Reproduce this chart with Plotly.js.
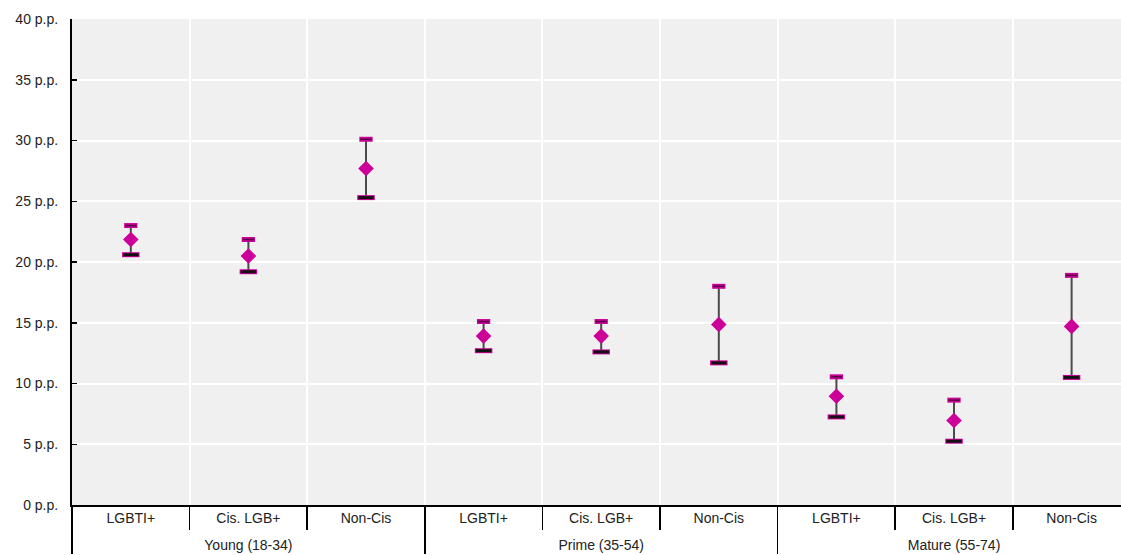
<!DOCTYPE html>
<html>
<head>
<meta charset="utf-8">
<script src="https://cdn.plot.ly/plotly-3.0.1.min.js"></script>
<style>html,body{margin:0;padding:0;background:#fff;}#chart{width:1121px;height:555px;}</style>
</head>
<body>
<div id="chart"></div>
<script>
const groups = ["Young (18-34)","Young (18-34)","Young (18-34)","Prime (35-54)","Prime (35-54)","Prime (35-54)","Mature (55-74)","Mature (55-74)","Mature (55-74)"];
const subcats = ["LGBTI+","Cis. LGB+","Non-Cis","LGBTI+","Cis. LGB+","Non-Cis","LGBTI+","Cis. LGB+","Non-Cis"];
const midValues = [21.85, 20.5, 27.7, 13.9, 13.9, 14.85, 8.95, 6.95, 14.7];
const highValues = [23.0, 21.85, 30.1, 15.1, 15.1, 18.0, 10.55, 8.63, 18.9];
const lowValues = [20.6, 19.2, 25.3, 12.7, 12.6, 11.7, 7.25, 5.25, 10.5];
const yTickVals = [0,5,10,15,20,25,30,35,40];

const MAG = "#cc0099";
// taller non-breaking spaces on both sides enlarge the first label row's box so the group row sits lower
const PADSP = "<span style='font-size:22px'>&nbsp;</span>";
const subLabels = subcats.map(s => PADSP + s + PADSP);
const x = [groups, subLabels];
const errPlus = highValues.map((h,i)=>h-midValues[i]);
const errMinus = midValues.map((m,i)=>m-lowValues[i]);

const traces = [
  {type:"scatter", mode:"markers", x:x, y:midValues, hoverinfo:"skip",
   marker:{symbol:"diamond", size:12, color:MAG},
   error_y:{type:"data", symmetric:false, array:errPlus, arrayminus:errMinus, color:"#4a4a4a", thickness:2, width:0}},
  {type:"scatter", mode:"markers", x:x, y:highValues, hoverinfo:"skip",
   marker:{symbol:"line-ew", size:9.5, line:{width:5, color:MAG}}},
  {type:"scatter", mode:"markers", x:x, y:highValues, hoverinfo:"skip",
   marker:{symbol:"line-ew", size:8, line:{width:1.6, color:"#5a0044"}}},
  {type:"scatter", mode:"markers", x:x, y:lowValues, hoverinfo:"skip",
   marker:{symbol:"line-ew", size:12.5, line:{width:5, color:MAG}}},
  {type:"scatter", mode:"markers", x:x, y:lowValues, hoverinfo:"skip",
   marker:{symbol:"line-ew", size:11, line:{width:3, color:"#111111"}}}
];

const layout = {
  width:1121, height:555,
  margin:{l:72, r:0, t:19, b:50, pad:0},
  paper_bgcolor:"#ffffff", plot_bgcolor:"#f0f0f0",
  showlegend:false,
  font:{family:"Liberation Sans, Arial, sans-serif", size:14, color:"#222"},
  xaxis:{type:"multicategory", range:[-0.5, 8.42], tickson:"boundaries",
    showgrid:true, gridcolor:"#ffffff", gridwidth:2,
    ticks:"outside", ticklen:23, tickcolor:"#000", tickwidth:1.5,
    showline:true, linecolor:"#000", linewidth:1.5,
    showdividers:true, dividercolor:"#000", dividerwidth:1.5,
    tickfont:{size:14, color:"#222"}, zeroline:false},
  yaxis:{range:[0,40], tickvals:yTickVals, ticktext:yTickVals.map(v=>v+" p.p."),
    showgrid:true, gridcolor:"#ffffff", gridwidth:2, zeroline:false,
    ticks:"inside", ticklen:5, tickcolor:"#000", tickwidth:1.5,
    showline:true, linecolor:"#000", linewidth:2, ticklabelstandoff:9,
    tickfont:{size:14, color:"#222"}}
};
Plotly.newPlot("chart", traces, layout, {staticPlot:true, displayModeBar:false});
</script>
</body>
</html>
